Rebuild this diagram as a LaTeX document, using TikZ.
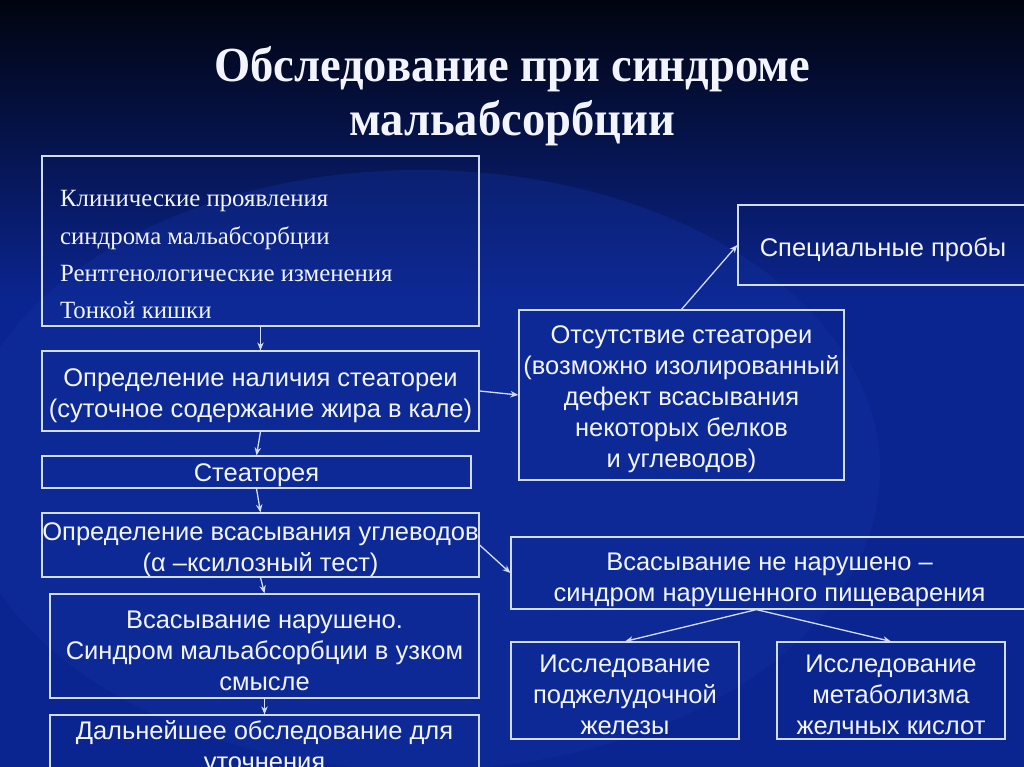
\documentclass[tikz,border=0pt]{standalone}
\usepackage{fontspec}
\setmainfont{Liberation Serif}
\setsansfont{Liberation Sans}
\usetikzlibrary{arrows.meta}
\definecolor{bgtop}{HTML}{01040F}
\definecolor{bgmid}{HTML}{0B2590}
\definecolor{bglight}{HTML}{1232A0}
\definecolor{linec}{HTML}{D2DCFF}
\definecolor{textc}{HTML}{F2F4FF}
\tikzset{
  box/.style={draw=linec, line width=1.2pt, inner sep=0pt},
  txt/.style={text=textc, align=center, inner sep=0pt, yshift=-4.5pt,
    font=\sffamily\fontsize{25.5}{31}\selectfont},
  arr/.style={draw=linec, line width=1.3pt, -{Stealth[length=8pt,width=6.5pt]}},
  titlef/.style={text=textc, font=\fontsize{49}{54}\bfseries\selectfont, inner sep=0pt, anchor=base},
  serift/.style={text=textc, font=\fontsize{24.8}{37}\selectfont, inner sep=0pt, anchor=base west}
}
\begin{document}
\begin{tikzpicture}[x=1pt,y=-1pt]
\useasboundingbox (0,0) rectangle (1024,767);
\begin{scope}
\clip (0,0) rectangle (1024,767);
\shade[top color=bgtop, bottom color=bgmid] (0,0) rectangle (1024,300);
\fill[bgmid] (0,299) rectangle (1024,767);
\fill[bglight, opacity=0.35] (420,470) ellipse (460 and 300);

% title
\node[titlef] (t1) at (512,82) {\scalebox{0.95}[1]{Обследование при синдроме}};
\node[titlef] (t2) at (512,136) {\scalebox{0.95}[1]{мальабсорбции}};

% left column
\node[box, minimum width=437pt, minimum height=170pt] (b1) at (260.5,241) {};
\node[serift] (s1) at (60,207) {Клинические проявления};
\node[serift] (s2) at (60,244) {синдрома мальабсорбции};
\node[serift] (s3) at (60,281) {Рентгенологические изменения};
\node[serift] (s4) at (60,318) {Тонкой кишки};

\node[box, minimum width=437pt, minimum height=80pt,
  label={[txt]center:{Определение наличия стеатореи\\(суточное содержание жира в кале)}}] (b2) at (260.5,391) {};
\node[box, minimum width=429pt, minimum height=32pt,
  label={[txt, yshift=1.5pt]center:{Стеаторея}}] (b3) at (256.5,472) {};
\node[box, minimum width=437pt, minimum height=64pt,
  label={[txt]center:{Определение всасывания углеводов\\(α –ксилозный тест)}}] (b4) at (260.5,545) {};
\node[box, minimum width=429pt, minimum height=104pt,
  label={[txt]center:{Всасывание нарушено.\\Синдром мальабсорбции в узком\\смысле}}] (b5) at (264.5,646) {};
\node[box, minimum width=429pt, minimum height=58pt,
  label={[txt]center:{Дальнейшее обследование для\\уточнения}}] (b6) at (264.5,744) {};

% right column
\node[box, minimum width=290pt, minimum height=80pt,
  label={[txt]center:{Специальные пробы}}] (b7) at (883,245) {};
\node[box, minimum width=325pt, minimum height=170pt,
  label={[txt]center:{Отсутствие стеатореи\\(возможно изолированный\\дефект всасывания\\некоторых белков\\и углеводов)}}] (b8) at (681.5,395) {};
\node[box, minimum width=517pt, minimum height=72pt,
  label={[txt, yshift=-2pt]center:{Всасывание не нарушено –\\синдром нарушенного пищеварения}}] (b9) at (769.5,573) {};
\node[box, minimum width=228pt, minimum height=97pt,
  label={[txt]center:{Исследование\\поджелудочной\\железы}}] (b10) at (625,690.5) {};
\node[box, minimum width=228pt, minimum height=97pt,
  label={[txt]center:{Исследование\\метаболизма\\желчных кислот}}] (b11) at (891,690.5) {};

% connectors
\draw[arr] (b1.south) -- (b2.north);
\draw[arr] (b2.south) -- (b3.north);
\draw[arr] (b3.south) -- (b4.north);
\draw[arr] (b4.south) -- (b5.north);
\draw[arr] (b5.south) -- (b6.north);
\draw[arr] (b2.east) -- (b8.west);
\draw[arr] (b8.north) -- (b7.west);
\draw[arr] (b4.east) -- (b9.west);
\draw[arr] ([xshift=246pt]b9.south west) -- (b10.north);
\draw[arr] ([xshift=246pt]b9.south west) -- (b11.north);
\end{scope}
\end{tikzpicture}
\end{document}
